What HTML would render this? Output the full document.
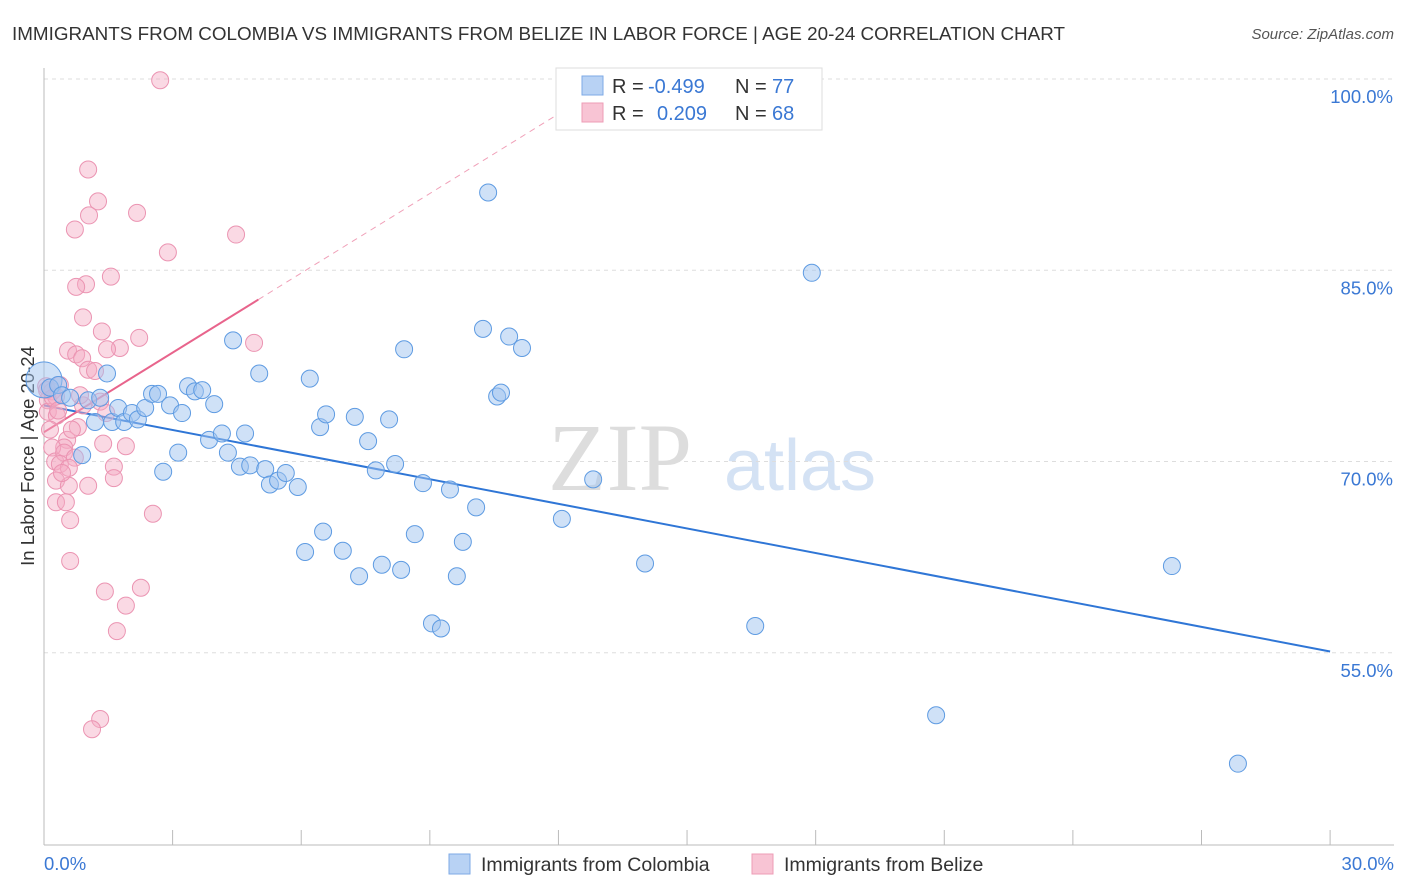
<!DOCTYPE html>
<html><head><meta charset="utf-8"><style>
body{margin:0;background:#fff;font-family:"Liberation Sans",sans-serif;}
svg{display:block}
</style></head><body>
<svg id="chart" width="1406" height="892">
<text x="12" y="40" font-size="18.5" fill="#333" textLength="1053" lengthAdjust="spacingAndGlyphs">IMMIGRANTS FROM COLOMBIA VS IMMIGRANTS FROM BELIZE IN LABOR FORCE | AGE 20-24 CORRELATION CHART</text>
<text x="1394" y="39" font-size="15" fill="#555" font-style="italic" text-anchor="end">Source: ZipAtlas.com</text>
<text x="620" y="490" font-size="96" fill="#ddd" font-family="Liberation Serif,serif" text-anchor="middle">ZIP</text>
<text x="800" y="490" font-size="72" fill="#d4e2f4" text-anchor="middle">atlas</text>
<text transform="translate(34,456) rotate(-90)" font-size="18.5" fill="#333" text-anchor="middle">In Labor Force | Age 20-24</text>
<g id="grid"></g><g id="axes"></g><g id="lines"></g><g id="pts"></g>
<g>
<rect x="556" y="68" width="266" height="62" fill="#fff" stroke="#ddd"/>
<rect x="582" y="76" width="21" height="19" fill="#b8d2f4" stroke="#7eaae6"/>
<rect x="582" y="103" width="21" height="19" fill="#f8c4d4" stroke="#ee9cb6"/>
<text x="612" y="93" font-size="20" fill="#333">R = <tspan x="648" fill="#3a78d4">-0.499</tspan><tspan x="735">N = </tspan><tspan x="772" fill="#3a78d4">77</tspan></text>
<text x="612" y="120" font-size="20" fill="#333">R = <tspan x="657" fill="#3a78d4">0.209</tspan><tspan x="735">N = </tspan><tspan x="772" fill="#3a78d4">68</tspan></text>
</g>
<g>
<rect x="449" y="854" width="21" height="20" fill="#b8d2f4" stroke="#7eaae6"/>
<text x="481" y="871" font-size="19.5" fill="#333">Immigrants from Colombia</text>
<rect x="752" y="854" width="21" height="20" fill="#f8c4d4" stroke="#ee9cb6"/>
<text x="784" y="871" font-size="19.5" fill="#333">Immigrants from Belize</text>
</g>
</svg>
<script>
const yTicks=[100,85,70,55];
const xTickLabels=["0.0%","30.0%"];
const blueX=[0,.14,.33,.42,.61,.89,1.03,1.19,1.31,1.47,1.59,1.73,1.87,2.05,2.19,2.36,2.52,2.66,2.78,2.94,3.13,3.22,3.36,3.52,3.69,3.85,3.97,4.15,4.29,4.41,4.57,4.69,4.81,5.02,5.16,5.27,5.46,5.64,5.92,6.09,6.20,6.44,6.51,6.58,6.97,7.25,7.35,7.56,7.74,7.88,8.05,8.19,8.33,8.40,8.65,8.84,9.05,9.26,9.47,9.63,9.77,10.08,10.24,10.36,10.57,10.66,10.85,11.15,12.08,12.81,14.02,16.59,17.91,20.81,26.31,27.85];
const blueY=[76.4,75.8,76.0,75.2,75.0,70.5,74.8,73.1,75.0,76.9,73.1,74.2,73.1,73.8,73.3,74.2,75.3,75.3,69.2,74.4,70.7,73.8,75.9,75.5,75.6,71.7,74.5,72.2,70.7,79.5,69.6,72.2,69.7,76.9,69.4,68.2,68.5,69.1,68.0,62.9,76.5,72.7,64.5,73.7,63.0,73.5,61.0,71.6,69.3,61.9,73.3,69.8,61.5,78.8,64.3,68.3,57.3,56.9,67.8,61.0,63.7,66.4,80.4,91.1,75.1,75.4,79.8,78.9,65.5,68.6,62.0,57.1,84.8,50.1,61.8,46.3];
const pinkX=[2.71,1.03,1.26,2.17,1.05,.72,2.89,4.48,1.56,.98,.75,.91,1.35,2.22,.56,4.90,.75,1.77,1.47,.89,1.03,1.19,.05,.19,.09,.28,.91,1.31,1.45,.09,.30,.79,.54,.47,1.38,1.91,.19,.26,.47,.72,.37,1.63,.58,1.63,1.03,.28,.58,.28,.51,2.54,.61,.61,1.42,2.26,1.91,1.70,1.31,1.12,.07,.37,.21,.33,.65,.42,.84,.14];
const pinkY=[99.9,92.9,90.4,89.5,89.3,88.2,86.4,87.8,84.5,83.9,83.7,81.3,80.2,79.7,78.7,79.3,78.4,78.9,78.8,78.1,77.2,77.1,75.9,75.5,74.8,75.1,74.4,74.7,73.8,73.9,73.6,72.7,71.7,71.1,71.4,71.2,71.1,70.0,70.7,70.3,69.8,69.6,69.5,68.7,68.1,68.5,68.1,66.8,66.8,65.9,65.4,62.2,59.8,60.1,58.7,56.7,49.8,49.0,75.6,76.0,75.0,74.0,72.5,69.1,75.2,72.5];
const blueTrend=[74.4,55.1];
const pinkTrend=[72.3,2.08];
const X=v=>44+v*42.87, Y=v=>79+(100-v)*12.75;
const NS="http://www.w3.org/2000/svg";
function mk(t,a,p){const e=document.createElementNS(NS,t);for(const k in a)e.setAttribute(k,a[k]);p.appendChild(e);return e;}
const grid=document.getElementById('grid'),axes=document.getElementById('axes'),lines=document.getElementById('lines'),pts=document.getElementById('pts');
yTicks.forEach(v=>{
 const l=mk('line',{x1:44,x2:1394,y1:Y(v),y2:Y(v),stroke:'#ddd','stroke-dasharray':'4,4'},grid);
 
 
 const t=mk('text',{x:1393,y:Y(v)+24,'font-size':18.5,fill:'#3a78d4','text-anchor':'end'},axes);t.textContent=v.toFixed(1)+'%';
 
 
});
const ax=mk('line',{x1:44,x2:1394,y1:845,y2:845,stroke:'#bbb'},axes);


const ay=mk('line',{x1:44,x2:44,y1:68,y2:845,stroke:'#bbb'},axes);


for(let i=0;i<=10;i++){const tk=mk('line',{x1:X(i*3),x2:X(i*3),y1:830,y2:845,stroke:'#bbb'},axes);
 
 }
const xl0=mk('text',{x:44,y:870,'font-size':18.5,fill:'#3a78d4'},axes);xl0.textContent=xTickLabels[0];


const xl1=mk('text',{x:1394,y:870,'font-size':18.5,fill:'#3a78d4','text-anchor':'end'},axes);xl1.textContent=xTickLabels[1];


const bt=mk('line',{x1:X(0),y1:Y(blueTrend[0]),x2:X(30),y2:Y(blueTrend[1]),stroke:'#2f76d6','stroke-width':2},lines);


const pd=mk('line',{x1:X(5),y1:Y(pinkTrend[0]+pinkTrend[1]*5),x2:X(12.04),y2:Y(pinkTrend[0]+pinkTrend[1]*12.04),stroke:'#f0a0b8','stroke-width':1,'stroke-dasharray':'6,5'},lines);


const pt=mk('line',{x1:X(0),y1:Y(pinkTrend[0]),x2:X(5),y2:Y(pinkTrend[0]+pinkTrend[1]*5),stroke:'#e8648c','stroke-width':2},lines);


pinkX.forEach((x,i)=>{const c=mk('circle',{cx:X(x),cy:Y(pinkY[i]),r:8.5,fill:'rgba(244,170,196,0.45)',stroke:'#eb94b2','stroke-width':1},pts);
 
 });
blueX.forEach((x,i)=>{const c=mk('circle',{cx:X(x),cy:Y(blueY[i]),r:i==0?18:8.5,fill:'rgba(160,196,240,0.5)',stroke:'#5e9be2','stroke-width':1},pts);
 
 });
</script>
</body></html>
